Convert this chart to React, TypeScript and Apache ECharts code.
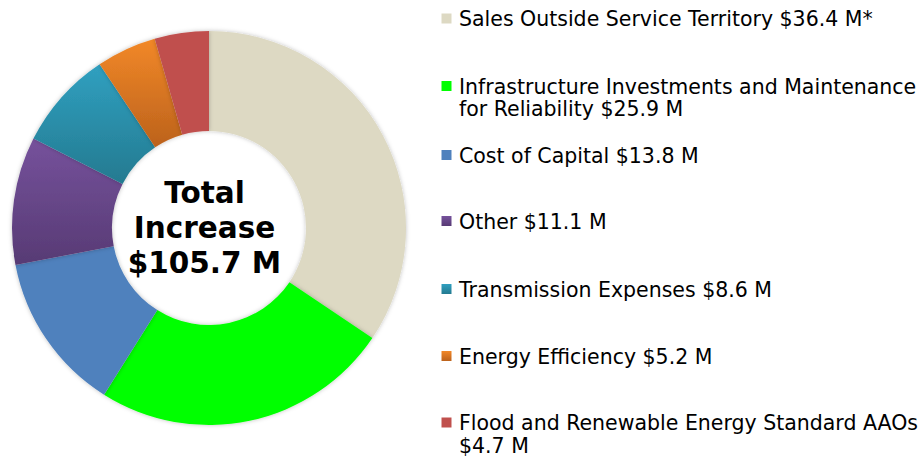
import React, { useEffect, useRef } from "react";
import * as echarts from "echarts";

const categories = [
  "Sales Outside Service Territory $36.4 M*",
  "Infrastructure Investments and Maintenance\nfor Reliability $25.9 M",
  "Cost of Capital $13.8 M",
  "Other $11.1 M",
  "Transmission Expenses $8.6 M",
  "Energy Efficiency $5.2 M",
  "Flood and Renewable Energy Standard AAOs\n$4.7 M",
];
const values = [36.4, 25.9, 13.8, 11.1, 8.6, 5.2, 4.7];
const centerLines = ["Total", "Increase", "$105.7 M"];

// colours: [top, bottom] of a vertical gradient
const colorStops: [string, string][] = [
  ["#ddd9c3", "#ddd9c3"],
  ["#00ff00", "#00ff00"],
  ["#4f81bd", "#4f81bd"],
  ["#76529c", "#573a74"],
  ["#30a0c0", "#247a90"],
  ["#f28828", "#bc621c"],
  ["#c0504d", "#c0504d"],
];
const legendY = [18.5, 86, 155, 221, 289, 356, 422.5];

function grad([a, b]: [string, string]) {
  if (a === b) return a;
  return new echarts.graphic.LinearGradient(0, 0, 0, 1, [
    { offset: 0, color: a },
    { offset: 1, color: b },
  ]);
}

export default function App() {
  const ref = useRef<HTMLDivElement>(null);
  useEffect(() => {
    if (!ref.current) return;
    const chart = echarts.init(ref.current, null, { renderer: "svg" });
    const font = "Verdana, 'DejaVu Sans', sans-serif";
    const lh = 22.5;
    const graphics: any[] = [];
    categories.forEach((c, i) => {
      graphics.push({
        type: "rect",
        shape: { x: 441.5, y: legendY[i] - 5, width: 10, height: 10 },
        style: { fill: grad(colorStops[i]) },
      });
      graphics.push({
        type: "text",
        x: 459,
        y: legendY[i] - lh / 2 + 0.5,
        style: {
          text: c,
          fill: "#000",
          font: `20.5px ${font}`,
          lineHeight: lh,
          verticalAlign: "top",
          align: "left",
        },
      });
    });
    graphics.push({
      type: "text",
      x: 204.5,
      y: 228,
      style: {
        text: centerLines.join("\n"),
        fill: "#000",
        font: `bold 29.5px ${font}`,
        lineHeight: 35,
        align: "center",
        verticalAlign: "middle",
      },
    });
    chart.setOption({
      animation: false,
      backgroundColor: "#fff",
      graphic: graphics,
      series: [
        {
          type: "pie",
          center: [209, 228],
          radius: [97, 197],
          startAngle: 90,
          clockwise: true,
          label: { show: false },
          labelLine: { show: false },
          emphasis: { disabled: true },
          itemStyle: {
            borderWidth: 0,
            shadowBlur: 4,
            shadowColor: "rgba(0,0,0,0.25)",
          },
          data: values.map((v, i) => ({
            name: categories[i],
            value: v,
            itemStyle: { color: grad(colorStops[i]) },
          })),
        },
      ],
    });
    return () => chart.dispose();
  }, []);
  return (
    <div
      ref={ref}
      style={{ position: "absolute", left: 0, top: 0, width: 924, height: 457 }}
    />
  );
}
